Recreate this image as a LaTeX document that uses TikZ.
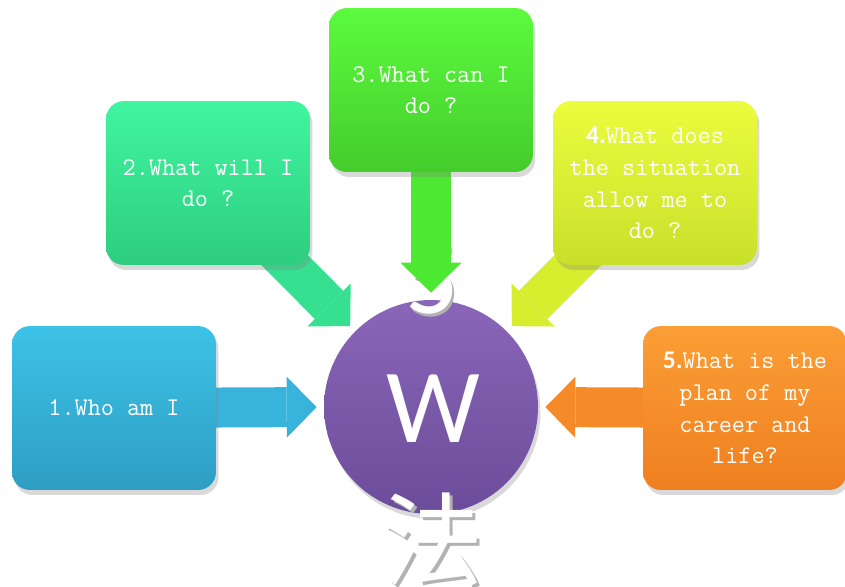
\documentclass[tikz,border=0pt]{standalone}
\usepackage{fontspec}
\usetikzlibrary{shadows,arrows.meta}
\newfontfamily\calfont{Carlito}
\newfontfamily\cjkfont{Noto Sans CJK SC}
\definecolor{wtop}{HTML}{8A66B8}
\definecolor{wbot}{HTML}{6B4C9A}
\definecolor{btopa}{HTML}{3DC2E8}
\definecolor{bbota}{HTML}{2E9EC2}
\definecolor{btopb}{HTML}{40F5A0}
\definecolor{bbotb}{HTML}{2ECD80}
\definecolor{btopc}{HTML}{5CFB3E}
\definecolor{bbotc}{HTML}{44CC2C}
\definecolor{btopd}{HTML}{ECFC3E}
\definecolor{bbotd}{HTML}{C8E02A}
\definecolor{btope}{HTML}{FB9E36}
\definecolor{bbote}{HTML}{EF7F1F}
\definecolor{arra}{HTML}{38B4DC}
\definecolor{arrb}{HTML}{36E090}
\definecolor{arrc}{HTML}{4DE832}
\definecolor{arrd}{HTML}{D6EE2E}
\definecolor{arre}{HTML}{F58A28}

\begin{document}
\begin{tikzpicture}
  [x=0.02cm,y=-0.02cm,
   box/.style={rounded corners=0.36cm,minimum width=4.08cm,minimum height=3.28cm,align=center,
     text=white,font=\ttfamily\fontsize{14.5}{18}\selectfont,
     drop shadow={shadow xshift=0.05cm,shadow yshift=-0.1cm,opacity=0.3}},
   arr/.style={line width=0.8cm,-{Triangle[length=0.6cm,width=1.22cm,line width=0pt]},shorten >=0.14cm},
   big/.style={text=white,inner sep=0pt,font=\calfont\fontsize{60}{60}\selectfont},
   cjk/.style={big,font=\cjkfont\fontsize{58}{58}\selectfont},
   ghost/.style={text=black!30}]

  \useasboundingbox (0,0) rectangle (845,586);

  % centre
  \node[circle,minimum size=4.28cm,top color=wtop,bottom color=wbot,
    drop shadow={shadow xshift=0.05cm,shadow yshift=-0.1cm,opacity=0.3}] (w) at (431,407) {};
  \node[big,ghost] (t5s) at (434,283) {5};
  \node[big] (t5) at (432,280) {5};
  \node[big] (tw) at (433,409) {W};
  \node[cjk,ghost] (tfas) at (435,543) {法};
  \node[cjk] (tfa) at (432,540) {法};

  \coordinate (c1) at (114,408);
  \coordinate (c2) at (208,183);
  \coordinate (c3) at (431,90);
  \coordinate (c4) at (655,183);
  \coordinate (c5) at (745,408);
  \foreach \from/\to/\col in {c1/w.west/arra,c2/w.135/arrb,c3/w.north/arrc,c4/w.45/arrd,c5/w.east/arre}
    \draw[arr,\col] (\from) -- (\to);

  \node[box,top color=btopa,bottom color=bbota] (b1) at (c1) {1.Who am I};
  \node[box,top color=btopb,bottom color=bbotb] (b2) at (c2) {2.What will I\\do ?};
  \node[box,top color=btopc,bottom color=bbotc] (b3) at (c3) {3.What can I\\do ?};
  \node[box,top color=btopd,bottom color=bbotd] (b4) at (c4) {{\calfont\bfseries 4.}What does\\the situation\\allow me to\\do ?};
  \node[box,top color=btope,bottom color=bbote] (b5) at (c5) {{\calfont\bfseries 5.}What is the\\plan of my\\career and\\life?};
\end{tikzpicture}
\end{document}
